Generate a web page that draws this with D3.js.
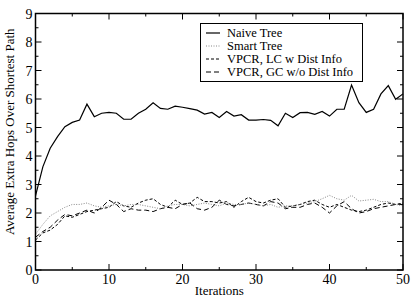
<!DOCTYPE html>
<html>
<head>
<meta charset="utf-8">
<script src="https://cdn.jsdelivr.net/npm/d3@7"></script>
<style>
  body { margin: 0; background: #fff; }
</style>
</head>
<body>
<svg id="chart" width="411" height="297" font-family="'Liberation Serif', 'Times New Roman', 'DejaVu Serif', serif"></svg>
<script>
// iterations 0..50
const iterations = d3.range(0, 51);

const naiveTree = [2.6, 3.62, 4.27, 4.68, 5.03, 5.18, 5.26, 5.82, 5.38, 5.5,
  5.53, 5.5, 5.29, 5.29, 5.5, 5.64, 5.87, 5.67, 5.64, 5.75,
  5.71, 5.66, 5.61, 5.47, 5.53, 5.35, 5.56, 5.4, 5.45, 5.26,
  5.26, 5.28, 5.25, 5.06, 5.5, 5.35, 5.52, 5.53, 5.46, 5.56,
  5.4, 5.64, 5.64, 6.49, 5.87, 5.53, 5.64, 6.18, 6.47, 5.99, 6.18];

const smartTree = [1.25, 1.6, 1.9, 2.05, 2.2, 2.3, 2.3, 2.35, 2.25, 2.2,
  2.25, 2.3, 2.25, 2.3, 2.3, 2.25, 2.2, 2.15, 2.25, 2.3,
  2.3, 2.25, 2.3, 2.35, 2.3, 2.25, 2.35, 2.3, 2.3, 2.35,
  2.3, 2.25, 2.3, 2.2, 2.25, 2.25, 2.3, 2.35, 2.4, 2.5,
  2.62, 2.5, 2.45, 2.62, 2.42, 2.45, 2.48, 2.4, 2.4, 2.3, 2.25];

const vpcrLC = [1.05, 1.3, 1.4, 1.6, 1.9, 1.85, 1.95, 2.05, 2.1, 2.15,
  2.2, 2.4, 2.25, 2.2, 2.35, 2.45, 2.5, 2.3, 2.2, 2.45,
  2.3, 2.35, 2.55, 2.4, 2.4, 2.35, 2.4, 2.2, 2.4, 2.55,
  2.4, 2.35, 2.45, 2.5, 2.2, 2.25, 2.3, 2.4, 2.45, 2.3,
  2.2, 2.3, 2.2, 2.1, 2.05, 2.1, 2.2, 2.3, 2.35, 2.3, 2.35];

const vpcrGC = [1.15, 1.35, 1.5, 1.75, 1.95, 1.9, 2.0, 2.1, 2.0, 2.2,
  2.45, 2.3, 2.05, 2.15, 2.1, 2.1, 2.05, 2.15, 2.2, 2.15,
  2.3, 2.35, 2.15, 2.1, 2.2, 2.45, 2.3, 2.25, 2.3, 2.35,
  2.3, 2.25, 2.4, 2.35, 2.15, 2.2, 2.2, 2.3, 2.35, 2.2,
  2.0, 2.25, 2.4, 2.15, 2.0, 2.05, 2.15, 2.2, 2.25, 2.3, 2.3];

const seriesNames = ["Naive Tree", "Smart Tree", "VPCR, LC w Dist Info", "VPCR, GC w/o Dist Info"];
const xTicks = [0, 10, 20, 30, 40, 50];
const yTicks = [0, 1, 2, 3, 4, 5, 6, 7, 8, 9];

const series = [
  { name: seriesNames[0], values: naiveTree, color: "#000", dash: null, width: 1.2 },
  { name: seriesNames[1], values: smartTree, color: "#888", dash: "1,1.5", width: 1 },
  { name: seriesNames[2], values: vpcrLC, color: "#000", dash: "3,2", width: 1 },
  { name: seriesNames[3], values: vpcrGC, color: "#000", dash: "5,3", width: 1 }
];

const svg = d3.select("#chart");
const plotL = 35.5, plotR = 403, plotT = 13.5, plotB = 270;

const x = d3.scaleLinear().domain([0, 50]).range([plotL, plotR]);
const y = d3.scaleLinear().domain([0, 9]).range([plotB, plotT]);

// ticks (inward on all sides)
const ticks = svg.append("g").attr("stroke", "#000").attr("stroke-width", 1);
d3.range(0, 51, 5).forEach(v => {
  const len = v % 10 === 0 ? 6 : 3;
  ticks.append("line").attr("x1", x(v)).attr("x2", x(v)).attr("y1", plotB).attr("y2", plotB - len);
  ticks.append("line").attr("x1", x(v)).attr("x2", x(v)).attr("y1", plotT).attr("y2", plotT + len);
});
d3.range(0, 9.01, 0.5).forEach(v => {
  const len = Number.isInteger(v) ? 6 : 3;
  ticks.append("line").attr("y1", y(v)).attr("y2", y(v)).attr("x1", plotL).attr("x2", plotL + len);
  ticks.append("line").attr("y1", y(v)).attr("y2", y(v)).attr("x1", plotR).attr("x2", plotR - len);
});

// tick labels
svg.append("g").selectAll("text").data(xTicks).enter().append("text")
  .attr("x", d => x(d)).attr("y", plotB + 14)
  .attr("text-anchor", "middle").attr("font-size", 14).text(d => d);
svg.append("g").selectAll("text").data(yTicks).enter().append("text")
  .attr("x", plotL - 3).attr("y", d => y(d) + 5)
  .attr("text-anchor", "end").attr("font-size", 14).text(d => d);

// axis titles
svg.append("text").attr("x", (plotL + plotR) / 2).attr("y", 295)
  .attr("text-anchor", "middle").attr("font-size", 13).text("Iterations");
svg.append("text").attr("transform", `translate(14,${(plotT + plotB) / 2 - 10}) rotate(-90)`)
  .attr("text-anchor", "middle").attr("font-size", 13).text("Average Extra Hops Over Shortest Path");

// lines
const line = d3.line().x((d, i) => x(iterations[i])).y(d => y(d));
svg.append("g").selectAll("path").data(series.slice().reverse()).enter().append("path")
  .attr("d", d => line(d.values))
  .attr("fill", "none")
  .attr("stroke", d => d.color)
  .attr("stroke-width", d => d.width)
  .attr("stroke-dasharray", d => d.dash);

// frame
svg.append("rect").attr("x", plotL).attr("y", plotT)
  .attr("width", plotR - plotL).attr("height", plotB - plotT)
  .attr("fill", "none").attr("stroke", "#000").attr("stroke-width", 1.5);

// legend
const legend = svg.append("g");
legend.append("rect").attr("x", 200.5).attr("y", 23.5).attr("width", 162).attr("height", 58)
  .attr("fill", "#fff").attr("stroke", "#000").attr("stroke-width", 1);
const rows = [33, 46, 59, 72];
series.forEach((s, i) => {
  legend.append("line").attr("x1", 206).attr("x2", 220).attr("y1", rows[i]).attr("y2", rows[i])
    .attr("stroke", s.color).attr("stroke-width", s.width).attr("stroke-dasharray", s.dash);
  legend.append("text").attr("x", 227).attr("y", rows[i] + 4).attr("font-size", 12.5).text(s.name);
});
</script>
</body>
</html>
